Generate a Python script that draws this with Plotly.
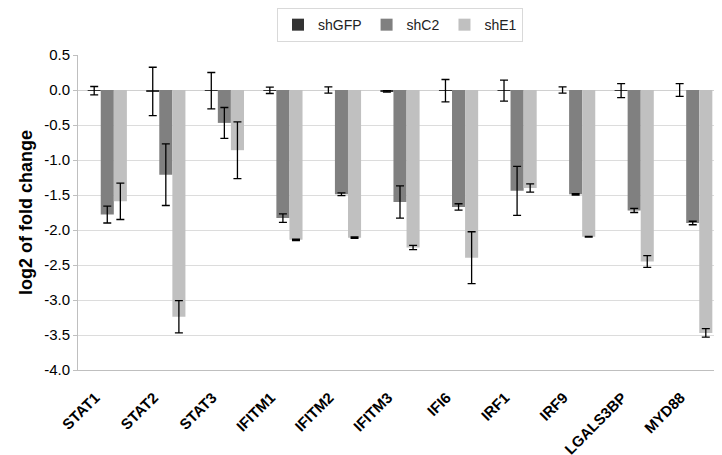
import plotly.graph_objects as go

categories = ["STAT1", "STAT2", "STAT3", "IFITM1", "IFITM2", "IFITM3",
              "IFI6", "IRF1", "IRF9", "LGALS3BP", "MYD88"]
shGFP = [-0.01, -0.02, -0.01, -0.005, 0.0, -0.02, -0.01, -0.01, 0.0, -0.01, 0.0]
shGFP_err = [0.06, 0.345, 0.26, 0.045, 0.045, 0.01, 0.16, 0.15, 0.045, 0.10, 0.09]
shC2 = [-1.78, -1.21, -0.47, -1.83, -1.49, -1.60, -1.67, -1.44, -1.49, -1.72, -1.90]
shC2_err = [0.12, 0.44, 0.22, 0.06, 0.02, 0.23, 0.045, 0.35, 0.01, 0.03, 0.025]
shE1 = [-1.59, -3.24, -0.86, -2.14, -2.11, -2.25, -2.395, -1.40, -2.095, -2.45, -3.47]
shE1_err = [0.26, 0.23, 0.405, 0.01, 0.01, 0.03, 0.37, 0.06, 0.005, 0.085, 0.06]
y_ticks = [0.5, 0.0, -0.5, -1.0, -1.5, -2.0, -2.5, -3.0, -3.5, -4.0]

series = [("shGFP", shGFP, shGFP_err, "#333333"),
          ("shC2", shC2, shC2_err, "#808080"),
          ("shE1", shE1, shE1_err, "#c0c0c0")]

FONT = "Arial, 'Liberation Sans', sans-serif"

fig = go.Figure()
for name, vals, errs, col in series:
    fig.add_trace(go.Bar(
        x=categories, y=vals, name=name,
        marker=dict(color=col, line=dict(width=0)),
        error_y=dict(type="data", array=errs, symmetric=True,
                     color="#000000", thickness=1.3, width=4),
    ))

# page body has an 8px margin, so the figure is drawn 8px right/down
fig.update_layout(
    width=714, height=447,
    margin=dict(l=70, r=0, t=47, b=85, autoexpand=False),
    paper_bgcolor="white", plot_bgcolor="white",
    barmode="group", bargap=0.33, bargroupgap=0,
    font=dict(family=FONT, color="#000000"),
    showlegend=True,
    legend=dict(orientation="h", x=0.5, xanchor="center", y=1.149, yanchor="top",
                bordercolor="#d9d9d9", borderwidth=1,
                font=dict(size=14, color="#222222", family=FONT),
                itemwidth=30, tracegroupgap=0),
    xaxis=dict(tickangle=-45, tickfont=dict(size=15, family=FONT),
               showline=True, linecolor="#bfbfbf", linewidth=1,
               ticks="outside", ticklen=12, tickcolor="rgba(0,0,0,0)",
               ticklabelshift=-12,
               showgrid=False, automargin=False),
    yaxis=dict(range=[-4.0, 0.5], tickvals=y_ticks,
               ticktext=["%.1f" % v for v in y_ticks],
               tickfont=dict(size=15, family=FONT),
               title=dict(text="<b>log2 of fold change</b>",
                          font=dict(size=18, family=FONT), standoff=6),
               showgrid=True, gridcolor="#dcdcdc", gridwidth=1,
               zeroline=True, zerolinecolor="#d0d0d0", zerolinewidth=1,
               showline=True, linecolor="#bfbfbf", linewidth=1,
               ticks="outside", ticklen=4, tickcolor="#bfbfbf",
               automargin=False),
)
fig.update_xaxes(tickprefix="<b>", ticksuffix="</b>")
fig.update_yaxes(tickprefix="<b>", ticksuffix="</b>")

fig.write_html("out.html")
